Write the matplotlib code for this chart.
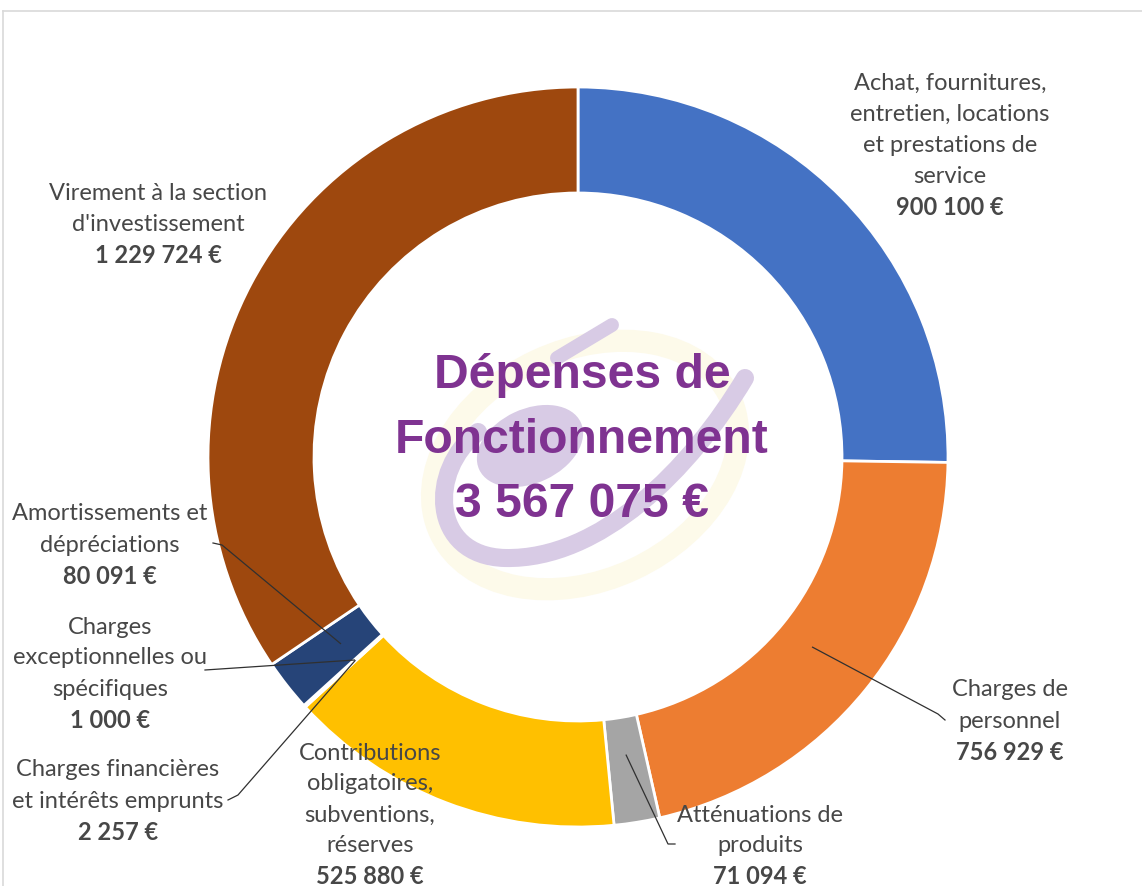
import numpy as np
import matplotlib
matplotlib.use("Agg")
import matplotlib.pyplot as plt
from matplotlib.patches import Ellipse, PathPatch
from matplotlib.path import Path

# data, clockwise from 12 o'clock
names = [
    "Achat, fournitures,\nentretien, locations\net prestations de\nservice",
    "Charges de\npersonnel",
    "Atténuations de\nproduits",
    "Contributions\nobligatoires,\nsubventions,\nréserves",
    "Charges financières\net intérêts emprunts",
    "Charges\nexceptionnelles ou\nspécifiques",
    "Amortissements et\ndépréciations",
    "Virement à la section\nd'investissement",
]
values = [900100, 756929, 71094, 525880, 2257, 1000, 80091, 1229724]
colors = ["#4472C4", "#ED7D31", "#A5A5A5", "#FFC000",
          "#5B9BD5", "#70AD47", "#264478", "#9E480E"]
title_lines = ["Dépenses de", "Fonctionnement", "3 567 075 €"]

W, H = 1142, 886
cx, cy = 578, 457          # donut centre, pixel coords (y down)
R_out, ring = 370, 106
TXT = "#474747"
PURPLE = "#7F3391"
LOGO = "#d8cbe5"

def fy(y):                 # pixel y -> data y
    return H - y

def fmt(v):
    return "{:,}".format(v).replace(",", " ") + " €"

fig = plt.figure(figsize=(W / 100, H / 100), dpi=100)
ax = fig.add_axes([0, 0, 1, 1])
ax.set_xlim(0, W)
ax.set_ylim(0, H)
ax.axis("off")

# light frame
ax.plot([3, W], [fy(11), fy(11)], color="#d9d9d9", lw=1.2)
ax.plot([3, 3], [fy(11), 0], color="#d9d9d9", lw=1.2)

wedges, _ = ax.pie(values, colors=colors, startangle=90, counterclock=False,
                   center=(cx, fy(cy)), radius=R_out,
                   wedgeprops=dict(width=ring, edgecolor="white", linewidth=2))
ax.set_xlim(0, W)
ax.set_ylim(0, H)
ax.set_aspect("equal")

# faint logo in the hole
ax.add_patch(Ellipse((585, fy(465)), 320, 230, angle=25, fill=False,
                     edgecolor="#fdfaea", lw=16, zorder=3))
ax.add_patch(Ellipse((530, fy(446)), 112, 74, angle=25,
                     facecolor=LOGO, edgecolor="none", zorder=3))
pts = [(745, 378), (690, 470), (600, 560), (505, 558),
       (430, 556), (428, 470), (478, 432)]
swoosh = Path([(px, fy(py)) for px, py in pts],
              [Path.MOVETO] + [Path.CURVE4] * 6)
ax.add_patch(PathPatch(swoosh, facecolor="none", edgecolor=LOGO,
                       lw=13, capstyle="round", zorder=3))
ax.plot([612, 557], [fy(325), fy(358)], color=LOGO, lw=10,
        solid_capstyle="round", zorder=3)

# centre title
for txt, yb in zip(title_lines, [388, 453, 517]):
    ax.text(582, fy(yb), txt, ha="center", va="baseline", fontsize=34.6,
            fontweight="bold", color=PURPLE, family="Liberation Sans", zorder=5)

# labels: centre x and first line y (pixels)
label_pos = [(950, 83), (1010, 690), (760, 815), (370, 753),
             (118, 770), (110, 627), (110, 514), (158, 193)]
pitch = 31
for name, v, (lx, ly) in zip(names, values, label_pos):
    lines = name.split("\n")
    for i, ln in enumerate(lines):
        ax.text(lx, fy(ly + i * pitch), ln, ha="center", va="center",
                fontsize=17, color=TXT, family="Lato", zorder=6)
    ax.text(lx, fy(ly + len(lines) * pitch), fmt(v), ha="center", va="center",
            fontsize=17, color=TXT, family="Lato", fontweight="bold", zorder=6)

# leader lines: from label side to a point inside the wedge
leader_start = {1: [(945, 720), (938, 714)],
                2: [(675, 844), (668, 844)],
                4: [(228, 800), (238, 795)],
                5: [(205, 670)],
                6: [(213, 543), (222, 545)]}
r_mid = R_out - 68
for idx, pts in leader_start.items():
    w = wedges[idx]
    ang = np.deg2rad((w.theta1 + w.theta2) / 2)
    ex = cx + r_mid * np.cos(ang)
    ey = fy(cy) + r_mid * np.sin(ang)
    xs = [p[0] for p in pts] + [ex]
    ys = [fy(p[1]) for p in pts] + [ey]
    ax.plot(xs, ys, color="#303030", lw=0.9, zorder=4)

fig.savefig("out.png", dpi=100)
